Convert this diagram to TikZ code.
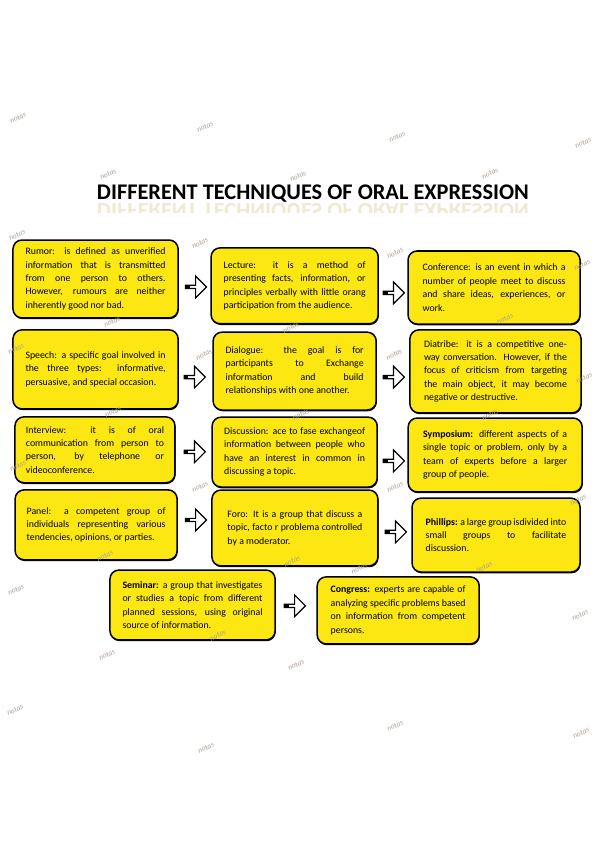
\documentclass[tikz,border=0pt]{standalone}
\usepackage{fontspec}
\setmainfont{Carlito}
\usetikzlibrary{shapes.arrows,shadows}
\definecolor{boxyellow}{RGB}{252,231,18}
\definecolor{markgray}{RGB}{175,160,150}
\definecolor{mirror}{RGB}{240,233,210}
\hyphenpenalty=10000
\tolerance=9999
\emergencystretch=2em
\hbadness=10000
\hfuzz=8pt

\begin{document}
\begin{tikzpicture}[
	technique/.style={shape=rectangle,rounded corners=9pt,draw=black,line width=1.5pt,fill=boxyellow,inner xsep=2pt,inner ysep=2pt,align=justify,font=\fontsize{9.8}{13.4}\selectfont,
		drop shadow={shadow xshift=0.6pt,shadow yshift=-1.3pt,fill=black,opacity=1}},
	pointer/.style={single arrow,draw=black,fill=white,line width=1.2pt,minimum height=0.74cm,minimum width=0.76cm,single arrow head extend=0.12cm,inner sep=0pt,
		path picture={\fill[black] (path picture bounding box.south west) rectangle ([xshift=0.15cm]path picture bounding box.north west);}},
	notas/.style={text=markgray,rotate=25,font=\fontsize{7.5}{7.5}\selectfont\itshape}
]
	\fill[white] (0, 0) rectangle (21.0, 29.73);
	\useasboundingbox (0, 0) rectangle (21.0, 29.73);

	% title and its reflection
	\node[anchor=base,font=\fontsize{22.3}{22.3}\selectfont\bfseries] (title) at (10.97, 22.74) {DIFFERENT TECHNIQUES OF ORAL EXPRESSION};
	\begin{scope}
		\clip (0, 22.28) rectangle (21.0, 22.58);
		\node[anchor=base,yscale=-1,text=mirror,font=\fontsize{22.3}{22.3}\selectfont\bfseries] (titlemirror) at (10.97, 22.58) {DIFFERENT TECHNIQUES OF ORAL EXPRESSION};
	\end{scope}

	% boxes
	\node[technique,text width=4.91cm,minimum width=5.79cm,minimum height=2.73cm] (rumor) at (3.35, 19.95) {Rumor: is defined as unverified\linebreak information that is transmitted\linebreak from one person to others.\linebreak However, rumours are neither\linebreak inherently good nor bad.};
	\node[technique,text width=4.98cm,minimum width=5.86cm,minimum height=2.66cm] (lecture) at (10.33, 19.71) {Lecture: it is a method of\linebreak presenting facts, information, or\linebreak principles verbally with little orang\linebreak participation from the audience.};
	\node[technique,text width=5.01cm,minimum width=6.03cm,minimum height=2.56cm] (conference) at (17.32, 19.65) {Conference: is an event in which a\linebreak number of people meet to discuss\linebreak and share ideas, experiences, or\linebreak work.};
	\node[technique,text width=4.91cm,minimum width=5.79cm,minimum height=2.77cm] (speech) at (3.35, 16.78) {Speech: a specific goal involved in\linebreak the three types: informative,\linebreak persuasive, and special occasion.};
	\node[technique,text width=4.84cm,minimum width=5.72cm,minimum height=2.73cm] (dialogue) at (10.33, 16.72) {Dialogue: the goal is for\linebreak participants to Exchange\linebreak information and build\linebreak relationships with one another.};
	\node[technique,text width=5.01cm,minimum width=6.00cm,minimum height=2.91cm] (diatribe) at (17.37, 16.71) {Diatribe: it is a competitive one-\linebreak way conversation. However, if the\linebreak focus of criticism from targeting\linebreak the main object, it may become\linebreak negative or destructive.};
	\node[technique,text width=4.84cm,minimum width=5.61cm,minimum height=2.31cm] (interview) at (3.33, 13.96) {Interview: it is of oral\linebreak communication from person to\linebreak person, by telephone or\linebreak videoconference.};
	\node[technique,text width=4.94cm,minimum width=5.79cm,minimum height=2.45cm] (discussion) at (10.33, 13.88) {Discussion: ace to fase exchangeof\linebreak information between people who\linebreak have an interest in common in\linebreak discussing a topic.};
	\node[technique,text width=5.05cm,minimum width=6.10cm,minimum height=2.59cm] (symposium) at (17.36, 13.78) {\textbf{Symposium:} different aspects of a\linebreak single topic or problem, only by a\linebreak team of experts before a larger\linebreak group of people.};
	\node[technique,text width=4.87cm,minimum width=5.68cm,minimum height=2.45cm] (panel) at (3.37, 11.33) {Panel: a competent group of\linebreak individuals representing various\linebreak tendencies, opinions, or parties.};
	\node[technique,text width=4.73cm,minimum width=5.82cm,minimum height=2.66cm] (foro) at (10.34, 11.22) {Foro: It is a group that discuss a\linebreak topic, facto r problema controlled\linebreak by a moderator.};
	\node[technique,text width=4.93cm,minimum width=5.89cm,minimum height=2.59cm] (phillips) at (17.39, 10.97) {\textbf{Phillips:} a large group isdivided into\linebreak small groups to facilitate\linebreak discussion.};
	\node[technique,text width=4.91cm,minimum width=5.79cm,minimum height=2.45cm] (seminar) at (6.75, 8.52) {\textbf{Seminar:} a group that investigates\linebreak or studies a topic from different\linebreak planned sessions, using original\linebreak source of information.};
	\node[technique,text width=4.73cm,minimum width=5.68cm,minimum height=2.35cm] (congress) at (13.96, 8.33) {\textbf{Congress:} experts are capable of\linebreak analyzing specific problems based\linebreak on information from competent\linebreak persons.};

	% arrows between the boxes
	\node[pointer] (p1) at (6.84, 19.67) {};
	\node[pointer] (p2) at (13.78, 19.46) {};
	\node[pointer] (p3) at (6.80, 16.51) {};
	\node[pointer] (p4) at (13.78, 16.51) {};
	\node[pointer] (p5) at (6.80, 13.89) {};
	\node[pointer] (p6) at (13.78, 13.57) {};
	\node[pointer] (p7) at (6.84, 11.50) {};
	\node[pointer] (p8) at (13.85, 11.08) {};
	\node[pointer] (p9) at (10.31, 8.49) {};

	% watermark
	\foreach \x/\y in {0.63/25.60, 7.19/25.28, 13.92/24.93, 20.44/24.72, 3.79/23.62, 10.45/23.55, 17.18/23.65,
		0.60/21.49, 7.01/21.21, 13.85/20.86, 20.41/20.44, 3.93/18.45, 10.20/18.25, 17.70/18.55,
		0.56/17.50, 7.15/17.30, 13.82/17.30, 20.48/16.48, 3.96/15.29, 10.55/15.20, 17.18/15.20,
		0.63/13.39, 7.01/12.66, 13.85/12.66, 20.27/12.20, 3.68/10.25, 10.24/10.05, 16.97/9.85,
		0.56/9.05, 7.64/7.45, 12.60/9.80, 20.34/8.17, 3.75/6.77, 10.38/6.42,
		0.53/4.84, 7.22/3.51, 13.85/4.28, 20.37/4.03}
		\node[notas] at (\x, \y) {notas};

\end{tikzpicture}
\end{document}
